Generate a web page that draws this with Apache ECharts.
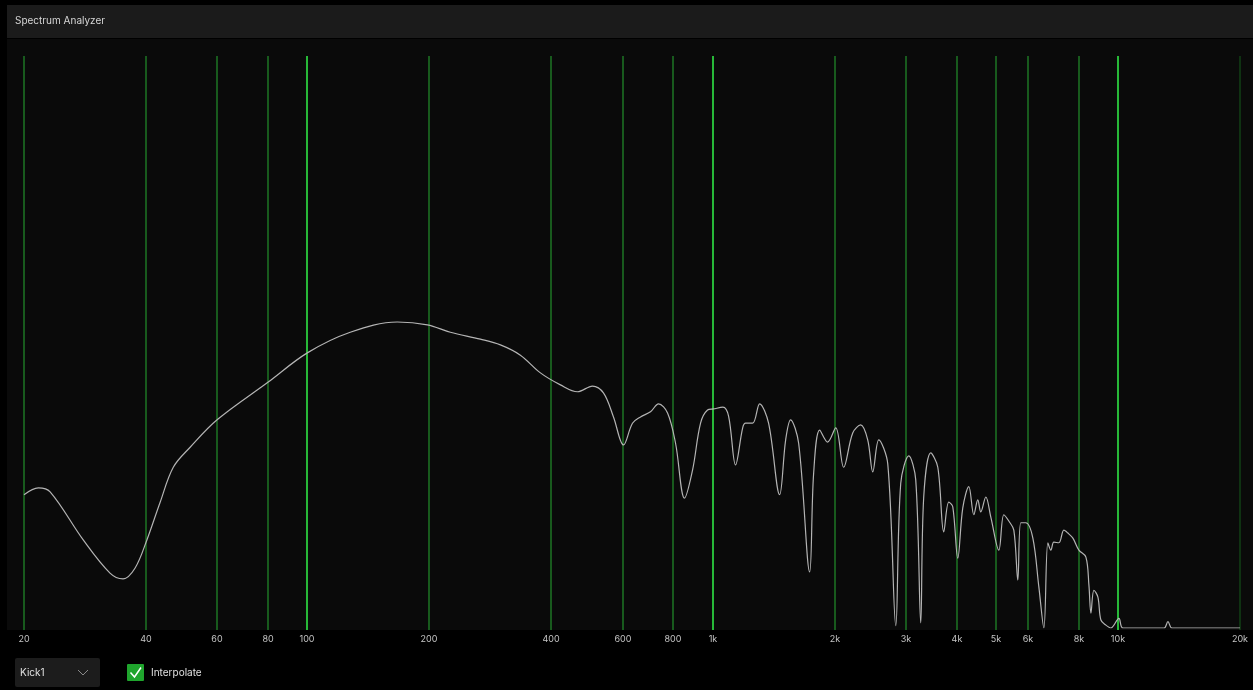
<!DOCTYPE html>
<html>
<head>
<meta charset="utf-8">
<script src="https://cdn.jsdelivr.net/npm/echarts@6/dist/echarts.min.js"></script>
<style>
html,body{margin:0;padding:0;background:#000;}
#chart{width:1253px;height:690px;}
</style>
</head>
<body>
<div id="chart"></div>
<script>
// Frequencies (Hz) of the read points
const freqs = [20, 21.7, 23.2, 28.0, 32.6, 35.1, 37.6, 40.2, 43.3, 46.7, 51.4, 59.9, 80.1, 100, 127.6, 166.7, 197.8, 225.4, 267.3, 299.5, 335.5, 375.9, 421.2, 464.0, 505.2, 537.8, 569.3, 602.6, 634.2, 663.8, 702.5, 735.3, 774.0, 810.0, 852.4, 892.1, 933.6, 971.5, 1005, 1060, 1095, 1139, 1186, 1206, 1255, 1306, 1374, 1463, 1514, 1557, 1630, 1735, 1775, 1837, 1922, 2012, 2105, 2216, 2319, 2413, 2483, 2569, 2704, 2830, 2911, 3047, 3170, 3261, 3317, 3452, 3593, 3717, 3824, 3912, 4025, 4141, 4285, 4409, 4510, 4587, 4720, 4856, 5082, 5229, 5379, 5534, 5661, 5759, 5925, 6166, 6379, 6563, 6714, 6830, 6947, 7148, 7353, 7522, 7740, 8009, 8334, 8478, 8575, 8722, 8922, 9075, 9337, 9606, 10053, 10283, 12985, 13283, 13590, 20000];
// Level (dB) at each frequency
const levels = [-76.7, -75.5, -76.2, -84.6, -90.4, -91.4, -89.5, -84.6, -78.1, -71.9, -68.4, -63.6, -57.0, -51.9, -48.3, -46.5, -47.0, -48.3, -49.5, -50.5, -52.3, -55.4, -57.5, -58.7, -57.7, -58.9, -63.1, -68.0, -64.2, -63.1, -62.2, -60.8, -62.4, -67.7, -77.3, -72.4, -64.2, -61.9, -61.7, -61.4, -63.0, -71.5, -65.0, -64.2, -64.2, -60.8, -64.2, -76.7, -67.1, -63.6, -67.7, -90.2, -72.9, -65.4, -67.5, -65.0, -71.9, -65.9, -64.5, -67.1, -72.7, -67.1, -71.3, -99.6, -74.7, -69.9, -74.1, -99.1, -77.1, -69.4, -71.9, -83.2, -78.0, -78.8, -87.8, -79.0, -75.3, -80.2, -77.6, -79.7, -77.1, -80.6, -86.4, -80.2, -81.3, -82.9, -91.6, -81.6, -81.6, -84.3, -92.8, -100, -85.1, -86.4, -85.0, -85.1, -82.9, -83.4, -84.3, -86.4, -87.6, -92.5, -97.4, -93.4, -94.6, -98.6, -99.5, -100, -98.3, -100, -100, -98.9, -100, -100];
// Grid line frequencies and their tick labels
const gridFreqs = [20, 40, 60, 80, 100, 200, 400, 600, 800, 1000, 2000, 3000, 4000, 5000, 6000, 8000, 10000, 20000];
const tickLabels = ['20', '40', '60', '80', '100', '200', '400', '600', '800', '1k', '2k', '3k', '4k', '5k', '6k', '8k', '10k', '20k'];
const majorFreqs = [100, 1000, 10000];

const Y_MIN = -100, Y_MAX = 0;
const chart = echarts.init(document.getElementById('chart'), null, {renderer: 'canvas'});
const FONT = 'Inter, "Noto Sans", sans-serif';

chart.setOption({
  backgroundColor: '#000',
  animation: false,
  graphic: [
    {type: 'rect', shape: {x: 7, y: 5, width: 1246, height: 33}, style: {fill: '#1b1b1b'}, z: -10},
    {type: 'text', x: 15, y: 21, style: {text: 'Spectrum Analyzer', fill: '#d6d6d6', font: '10px ' + FONT, verticalAlign: 'middle'}, z: -9},
    {type: 'rect', shape: {x: 7, y: 39, width: 1246, height: 591}, style: {fill: '#0a0a0a'}, z: -10},
    {type: 'rect', shape: {x: 15, y: 658, width: 85, height: 29, r: 2}, style: {fill: '#1c1c1c'}, z: -9},
    {type: 'text', x: 20, y: 673, style: {text: 'Kick1', fill: '#e0e0e0', font: '10px ' + FONT, verticalAlign: 'middle'}, z: -8},
    {type: 'polyline', shape: {points: [[78, 670], [83, 675], [88, 670]]}, style: {stroke: '#8a8a8a', lineWidth: 1, fill: null}, z: -8},
    {type: 'rect', shape: {x: 127, y: 664, width: 17, height: 17, r: 1}, style: {fill: '#1fa52d'}, z: -9},
    {type: 'polyline', shape: {points: [[130.5, 672.5], [134.5, 677], [141, 667.5]]}, style: {stroke: '#ffffff', lineWidth: 1.5, fill: null}, z: -8},
    {type: 'text', x: 151, y: 673, style: {text: 'Interpolate', fill: '#e0e0e0', font: '10px ' + FONT, verticalAlign: 'middle'}, z: -8}
  ],
  grid: {left: 24, right: 13, top: 56, bottom: 62, show: false},
  xAxis: {
    type: 'log', logBase: 10, min: 20, max: 20000,
    axisLine: {show: false}, axisTick: {show: false}, axisLabel: {show: false}, splitLine: {show: false}
  },
  yAxis: {
    type: 'value', min: Y_MIN, max: Y_MAX,
    axisLine: {show: false}, axisTick: {show: false}, axisLabel: {show: false}, splitLine: {show: false}
  },
  series: [
    {
      type: 'custom', z: 1, silent: true, clip: false,
      data: gridFreqs.map(f => [f, majorFreqs.indexOf(f) >= 0 ? 1 : 0]),
      renderItem: function (params, api) {
        const f = api.value(0);
        const major = api.value(1) === 1;
        const top = api.coord([f, Y_MAX]);
        const bot = api.coord([f, Y_MIN]);
        const x = Math.round(top[0]);
        const stroke = major ? '#27b838' : (f === 20000 ? '#0f3212' : '#185a1d');
        return {
          type: 'group',
          children: [
            {type: 'line', shape: {x1: x, y1: top[1], x2: x, y2: bot[1] + 2},
             style: {stroke: stroke, lineWidth: 2}},
            {type: 'text', x: x, y: bot[1] + 11,
             style: {text: tickLabels[params.dataIndex], fill: '#c4c4c4', font: '9px ' + FONT,
                     align: 'center', verticalAlign: 'middle'}}
          ]
        };
      }
    },
    {
      type: 'line', z: 5, smooth: 0.35, showSymbol: false, silent: true,
      lineStyle: {color: '#b4b4b4', width: 1.2},
      data: freqs.map((f, i) => [f, levels[i]])
    }
  ]
});
</script>
</body>
</html>
